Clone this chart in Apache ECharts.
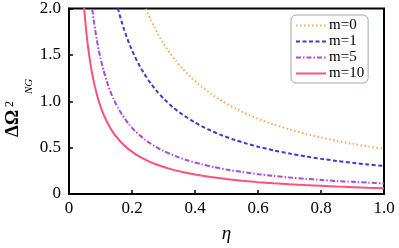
<!DOCTYPE html>
<html><head><meta charset="utf-8">
<script src="https://cdn.jsdelivr.net/npm/echarts@6/dist/echarts.min.js"></script>
<style>html,body{margin:0;padding:0;background:#fff}#c{width:399px;height:248px}</style>
</head><body><div id="c"></div>
<script>
const seriesNames = ['m=0', 'm=1', 'm=5', 'm=10'];
const xTicks = [0, 0.2, 0.4, 0.6, 0.8, 1.0];
const yTicks = [0, 0.5, 1.0, 1.5, 2.0];
const etaM0 = [0.244, 0.25, 0.26, 0.27, 0.285, 0.3, 0.32, 0.34, 0.36, 0.39, 0.42, 0.45, 0.49, 0.53, 0.57, 0.61, 0.65, 0.7, 0.75, 0.8, 0.85, 0.9, 0.95, 1.0];
const valM0 = [1.996, 1.948, 1.873, 1.804, 1.709, 1.623, 1.522, 1.432, 1.353, 1.249, 1.160, 1.082, 0.994, 0.919, 0.854, 0.798, 0.749, 0.696, 0.649, 0.609, 0.573, 0.541, 0.513, 0.487];
const etaM1 = [0.155, 0.16, 0.167, 0.175, 0.185, 0.195, 0.21, 0.225, 0.24, 0.26, 0.28, 0.3, 0.33, 0.36, 0.4, 0.44, 0.48, 0.52, 0.56, 0.6, 0.65, 0.7, 0.75, 0.8, 0.85, 0.9, 0.95, 1.0];
const valM1 = [2.003, 1.940, 1.858, 1.773, 1.676, 1.590, 1.476, 1.377, 1.290, 1.190, 1.104, 1.030, 0.935, 0.857, 0.770, 0.699, 0.640, 0.590, 0.547, 0.510, 0.470, 0.436, 0.406, 0.380, 0.357, 0.337, 0.318, 0.302];
const etaM5 = [0.074, 0.078, 0.083, 0.088, 0.094, 0.1, 0.11, 0.12, 0.13, 0.14, 0.155, 0.17, 0.19, 0.21, 0.24, 0.27, 0.3, 0.34, 0.38, 0.42, 0.46, 0.5, 0.55, 0.6, 0.65, 0.7, 0.75, 0.8, 0.85, 0.9, 0.95, 1.0];
const valM5 = [1.991, 1.887, 1.771, 1.669, 1.560, 1.464, 1.328, 1.214, 1.118, 1.035, 0.932, 0.846, 0.753, 0.678, 0.589, 0.520, 0.464, 0.405, 0.359, 0.321, 0.290, 0.264, 0.237, 0.214, 0.195, 0.178, 0.164, 0.152, 0.140, 0.131, 0.122, 0.114];
const etaM10 = [0.048, 0.052, 0.056, 0.06, 0.065, 0.07, 0.075, 0.08, 0.09, 0.1, 0.11, 0.12, 0.135, 0.15, 0.17, 0.19, 0.22, 0.25, 0.28, 0.32, 0.36, 0.4, 0.45, 0.5, 0.55, 0.6, 0.65, 0.7, 0.75, 0.8, 0.85, 0.9, 0.95, 1.0];
const valM10 = [2.007, 1.850, 1.715, 1.598, 1.473, 1.365, 1.272, 1.190, 1.054, 0.945, 0.856, 0.782, 0.691, 0.618, 0.541, 0.481, 0.410, 0.357, 0.315, 0.271, 0.237, 0.210, 0.183, 0.161, 0.143, 0.128, 0.116, 0.105, 0.096, 0.088, 0.080, 0.074, 0.068, 0.063];

const SERIF = 'Liberation Serif';
const pair = (xs, ys) => xs.map((x, i) => [x, ys[i]]);
const styles = [
  {color: '#F9A95B', type: [1.5, 2.5]},
  {color: '#3C3CC8', type: [4, 2.5]},
  {color: '#A64BE0', type: [5, 2, 1.5, 2]},
  {color: '#FF4F7B', type: 'solid'}
];
const datas = [pair(etaM0, valM0), pair(etaM1, valM1), pair(etaM5, valM5), pair(etaM10, valM10)];

const chart = echarts.init(document.getElementById('c'), null, {renderer: 'canvas'});
chart.setOption({
  animation: false,
  grid: {left: 69, right: 15, top: 6, bottom: 48.5, show: true, borderColor: '#000', borderWidth: 2, backgroundColor: 'transparent'},
  xAxis: {
    type: 'value', min: 0, max: 1, interval: 0.2,
    name: 'η', nameLocation: 'middle', nameGap: 30,
    nameTextStyle: {fontFamily: SERIF, fontStyle: 'italic', fontSize: 19, color: '#000'},
    axisLine: {lineStyle: {color: '#000', width: 2}},
    axisTick: {inside: true, length: 4, lineStyle: {color: '#000', width: 1.5}},
    axisLabel: {fontFamily: SERIF, fontSize: 17, color: '#000', margin: 6,
      formatter: v => v === 0 ? '0' : v.toFixed(1)},
    splitLine: {show: false}
  },
  yAxis: {
    type: 'value', min: 0, max: 2, interval: 0.5,
    axisLine: {lineStyle: {color: '#000', width: 2}},
    axisTick: {inside: true, length: 4, lineStyle: {color: '#000', width: 1.5}},
    axisLabel: {fontFamily: SERIF, fontSize: 17, color: '#000', margin: 8,
      formatter: v => v === 0 ? '0' : v.toFixed(1)},
    splitLine: {show: false}
  },
  legend: {
    orient: 'vertical', left: 291, top: 15,
    data: seriesNames,
    itemWidth: 30, itemHeight: 8, itemGap: 1,
    padding: [3, 4, 2, 4],
    itemStyle: {opacity: 0, borderWidth: 0},
    borderColor: '#9aa', borderWidth: 1, borderRadius: 5, backgroundColor: '#fff',
    textStyle: {fontFamily: SERIF, fontSize: 15, lineHeight: 13.5, color: '#000', padding: [0, 0, 0, -2]}
  },
  graphic: [
    {type: 'text', x: 23, y: 137, rotation: Math.PI / 2,
      style: {text: 'ΔΩ', font: 'bold 19px ' + SERIF, fill: '#000', textAlign: 'left', textVerticalAlign: 'bottom'}},
    {type: 'text', x: 16, y: 107, rotation: Math.PI / 2,
      style: {text: '2', font: '12px ' + SERIF, fill: '#000', textAlign: 'left', textVerticalAlign: 'bottom'}},
    {type: 'text', x: 35, y: 94, rotation: Math.PI / 2,
      style: {text: 'NG', font: 'italic 11px ' + SERIF, fill: '#000', textAlign: 'left', textVerticalAlign: 'bottom'}}
  ],
  series: seriesNames.map((n, i) => ({
    name: n, type: 'line', data: datas[i], symbol: 'none', smooth: 0.2,
    lineStyle: {color: styles[i].color, width: 2, type: styles[i].type},
    itemStyle: {color: styles[i].color}, clip: true
  }))
});
</script></body></html>
